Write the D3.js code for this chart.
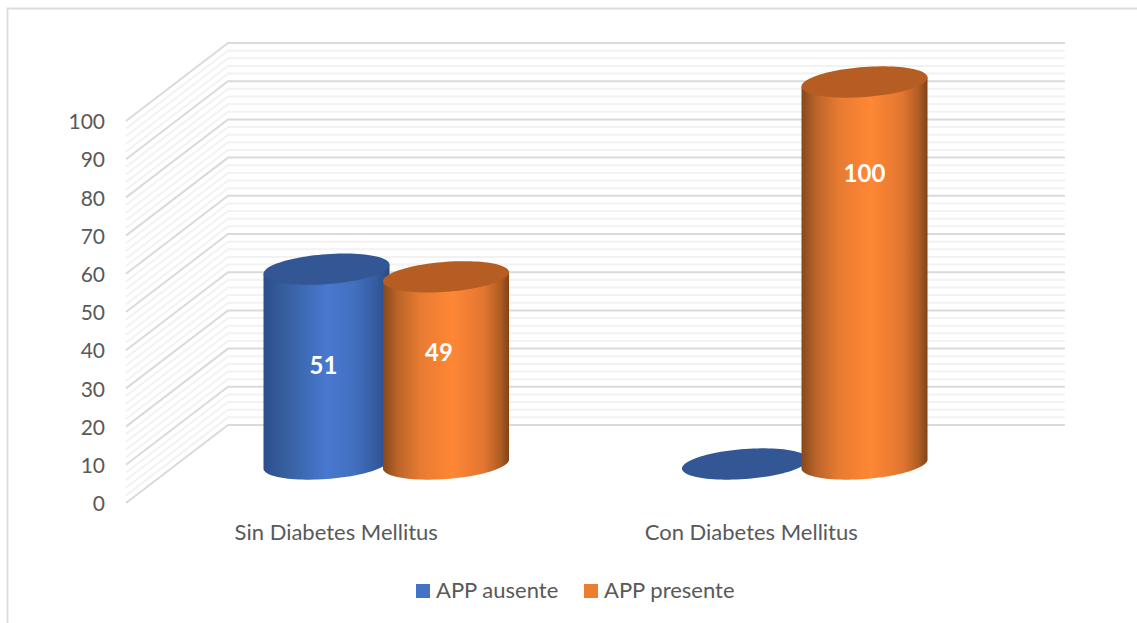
<!DOCTYPE html>
<html><head><meta charset="utf-8">
<script src="https://cdn.jsdelivr.net/npm/d3@7/dist/d3.min.js"></script>
<style>html,body{margin:0;padding:0;background:#fff;overflow:hidden}svg{display:block}text{font-family:Lato,Carlito,"Open Sans",sans-serif}</style>
</head><body><div id="chart"></div>
<script>
const categories = ["Sin Diabetes Mellitus", "Con Diabetes Mellitus"];
const seriesNames = ["APP ausente", "APP presente"];
const appAusente = [51, 0];
const appPresente = [49, 100];
const yTicks = [0,10,20,30,40,50,60,70,80,90,100];
const minorTicks = d3.range(0,101,2).filter(v=>v%10!==0);

const W=1137,H=623;
const svg=d3.select("#chart").append("svg").attr("width",W).attr("height",H);
const defs=svg.append("defs");
const theme=[
 {name:"blue",stops:[[0,"#2b4f8c"],[.18,"#36609f"],[.5,"#4878d0"],[.72,"#426fbf"],[.9,"#345b9f"],[1,"#2a4c86"]],top:"#335694",swatch:"#4472c4"},
 {name:"orange",stops:[[0,"#86481a"],[.12,"#bc6529"],[.3,"#e87b32"],[.55,"#ff8735"],[.8,"#e27630"],[.93,"#b05d24"],[1,"#7f4418"]],top:"#b55d22",swatch:"#ed7d31"}
];
theme.forEach(t=>{
 const g=defs.append("linearGradient").attr("id","grad-"+t.name).attr("x1","0").attr("x2","1").attr("y1","0").attr("y2","0");
 t.stops.forEach(s=>g.append("stop").attr("offset",s[0]).attr("stop-color",s[1]));
});
const soft=defs.append("filter").attr("id","soft").attr("filterUnits","userSpaceOnUse").attr("x",0).attr("y",0).attr("width",W).attr("height",H);
soft.append("feGaussianBlur").attr("stdDeviation",0.6);

// frame (top and left edges are the ones visible)
svg.append("path").attr("d",`M7.5,${H} V8.5 H${W}`).attr("fill","none").attr("stroke","#dcdcdc").attr("stroke-width",1.8);

// 3D box projection
const depth={dx:102,dy:-78};
const y=d3.scaleLinear().domain([0,100]).range([503,121]);
const frontX=[126,963];
const x0=d3.scaleBand().domain(categories).range([frontX[0]+depth.dx/2,frontX[1]+depth.dx/2]);
const x1=d3.scaleBand().domain(seriesNames).range([-119.5,119.5]).paddingInner(0).paddingOuter(0);
const midY=v=>y(v)+depth.dy/2;
const barW=126, ry=15, shear=4.5;

// walls
const wall=svg.append("g").attr("fill","none").attr("filter","url(#soft)");
const wallPath=v=>`M${frontX[0]},${y(v)} L${frontX[0]+depth.dx},${y(v)+depth.dy} H${frontX[1]+depth.dx}`;
wall.selectAll("path.minor").data(minorTicks).join("path").attr("class","minor").attr("d",wallPath).attr("stroke","#f2f2f2").attr("stroke-width",2);
wall.selectAll("path.major").data(yTicks).join("path").attr("class","major").attr("d",wallPath).attr("stroke","#dadada").attr("stroke-width",2);

// y axis labels
const axis=d3.axisLeft(y).tickValues(yTicks).tickSize(0).tickPadding(0);
const ga=svg.append("g").attr("transform","translate(105,1)").call(axis);
ga.select(".domain").remove();
ga.selectAll("text").attr("fill","#595959").style("font-size","21px").style("font-family","Lato,Carlito,sans-serif");

// category labels
svg.append("g").selectAll("text").data(categories).join("text")
 .attr("x",(d,i)=>x0(d)+x0.bandwidth()/2+[-50,-53.5][i]).attr("y",540).attr("text-anchor","middle")
 .attr("fill","#595959").style("font-size","22px").text(d=>d);

// cylinders
function ell(cx,cy){ // sheared ellipse outline as points
 return d3.range(0,2*Math.PI+.001,Math.PI/48).map(t=>[cx+barW/2*Math.cos(t),cy+ry*Math.sin(t)-shear*Math.cos(t)]);
}
const line=d3.line();
function body(cx,yTop,yBase){
 const lower=d3.range(0,Math.PI+.001,Math.PI/48).map(t=>[cx+barW/2*Math.cos(t),yBase+ry*Math.sin(t)-shear*Math.cos(t)]);
 const tl=[cx-barW/2,yTop+shear], tr=[cx+barW/2,yTop-shear];
 return line([tr,...lower,tl])+"Z";
}
const rows=[];
categories.forEach((c,i)=>{
 rows.push({c,s:0,v:appAusente[i]});
 rows.push({c,s:1,v:appPresente[i]});
});
const bars=svg.append("g");
const barCx=d=>x0(d.c)+x0.bandwidth()/2+x1(seriesNames[d.s])+x1.bandwidth()/2;
rows.forEach(d=>{
 const g=bars.append("g");
 const cx=barCx(d), yT=midY(d.v), yB=midY(0);
 if(d.v>0) g.append("path").attr("d",body(cx,yT,yB)).attr("fill",`url(#grad-${theme[d.s].name})`);
 g.append("path").attr("d",line(ell(cx,yT))+"Z").attr("fill",theme[d.s].top);
});

// value labels (hand-placed in the source chart, so shifted from the bar centres)
const labelShift={ "51":[-3,0], "49":[-7,-16], "100":[0,-98] };
svg.append("g").selectAll("text").data(rows.filter(d=>d.v>0)).join("text")
 .attr("x",d=>barCx(d)+labelShift[d.v][0])
 .attr("y",d=>(midY(d.v)+midY(0))/2+labelShift[d.v][1]+7)
 .attr("text-anchor","middle").attr("fill","#fff").style("font-size","24px").style("font-weight","700")
 .text(d=>d.v);

// legend
const lx=[416,584];
const lg=svg.append("g").selectAll("g").data(seriesNames).join("g").attr("transform",(d,i)=>`translate(${lx[i]},584)`);
lg.append("rect").attr("width",14).attr("height",14).attr("fill",(d,i)=>theme[i].swatch);
lg.append("text").attr("x",20).attr("y",14).attr("fill","#595959").style("font-size","22px").text(d=>d);
</script></body></html>
